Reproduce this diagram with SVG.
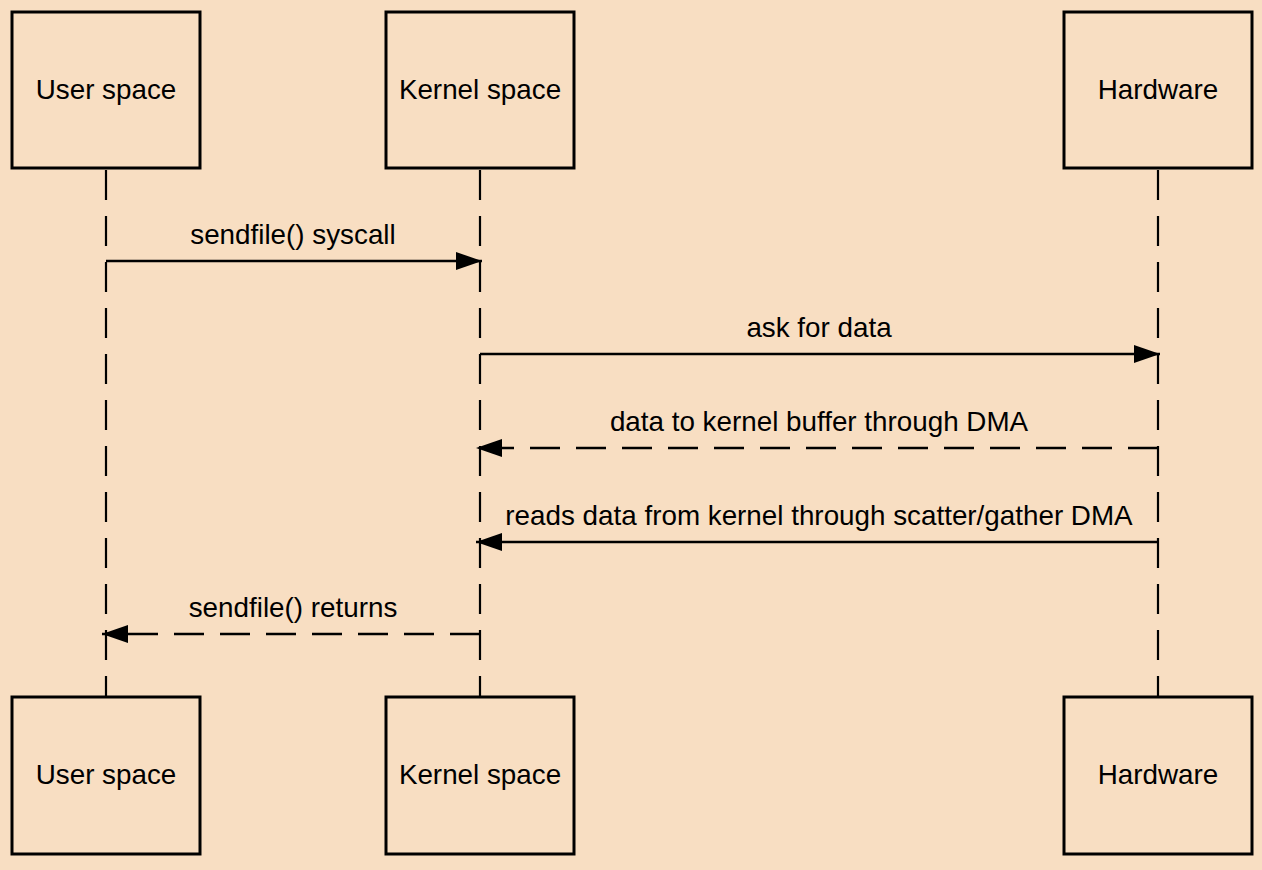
<svg xmlns="http://www.w3.org/2000/svg" width="1262" height="870" viewBox="0 0 1262 870">
  <style>
    .box { fill: #F8DEC2; stroke: #000; stroke-width: 3; }
    .label { font-family: "Liberation Sans", Arial, sans-serif; font-size: 27.8px; fill: #000; text-anchor: middle; }
    .life { stroke: #000; stroke-width: 2.2; stroke-dasharray: 30 16; fill: none; }
    .msg { stroke: #000; stroke-width: 2.4; fill: none; }
    .dashed { stroke-dasharray: 30 16; }
  </style>
  <defs>
    <marker id="head" viewBox="0 0 26 18" refX="26" refY="9" markerWidth="26" markerHeight="18" markerUnits="userSpaceOnUse" orient="auto">
      <path d="M0,0 L26,9 L0,18 Z" fill="#000"/>
    </marker>
  </defs>
  <rect width="1262" height="870" fill="#F8DEC2"/>

  <!-- lifelines -->
  <g id="lifelines">
    <line class="life" x1="106" y1="170" x2="106" y2="697"/>
    <line class="life" x1="480" y1="170" x2="480" y2="697"/>
    <line class="life" x1="1158" y1="170" x2="1158" y2="697"/>
  </g>

  <!-- participants, top -->
  <g id="user-top">
    <rect class="box" x="12" y="12" width="188" height="156"/>
    <text class="label" x="106" y="99">User space</text>
  </g>
  <g id="kernel-top">
    <rect class="box" x="386" y="12" width="188" height="156"/>
    <text class="label" x="480" y="99">Kernel space</text>
  </g>
  <g id="hardware-top">
    <rect class="box" x="1064" y="12" width="188" height="156"/>
    <text class="label" x="1158" y="99">Hardware</text>
  </g>

  <!-- participants, bottom -->
  <g id="user-bottom">
    <rect class="box" x="12" y="697" width="188" height="157"/>
    <text class="label" x="106" y="784">User space</text>
  </g>
  <g id="kernel-bottom">
    <rect class="box" x="386" y="697" width="188" height="157"/>
    <text class="label" x="480" y="784">Kernel space</text>
  </g>
  <g id="hardware-bottom">
    <rect class="box" x="1064" y="697" width="188" height="157"/>
    <text class="label" x="1158" y="784">Hardware</text>
  </g>

  <!-- messages -->
  <g id="connectors">
    <line class="msg" x1="106" y1="261" x2="482" y2="261" marker-end="url(#head)"/>
    <text class="label" x="293" y="244">sendfile() syscall</text>

    <line class="msg" x1="480" y1="354" x2="1160" y2="354" marker-end="url(#head)"/>
    <text class="label" x="819" y="337">ask for data</text>

    <line class="msg dashed" x1="1158" y1="448" x2="476" y2="448" marker-end="url(#head)"/>
    <text class="label" x="819" y="431">data to kernel buffer through DMA</text>

    <line class="msg" x1="1158" y1="542" x2="476" y2="542" marker-end="url(#head)"/>
    <text class="label" x="819" y="525">reads data from kernel through scatter/gather DMA</text>

    <line class="msg dashed" x1="480" y1="634" x2="102" y2="634" marker-end="url(#head)"/>
    <text class="label" x="293" y="617">sendfile() returns</text>
  </g>
</svg>
